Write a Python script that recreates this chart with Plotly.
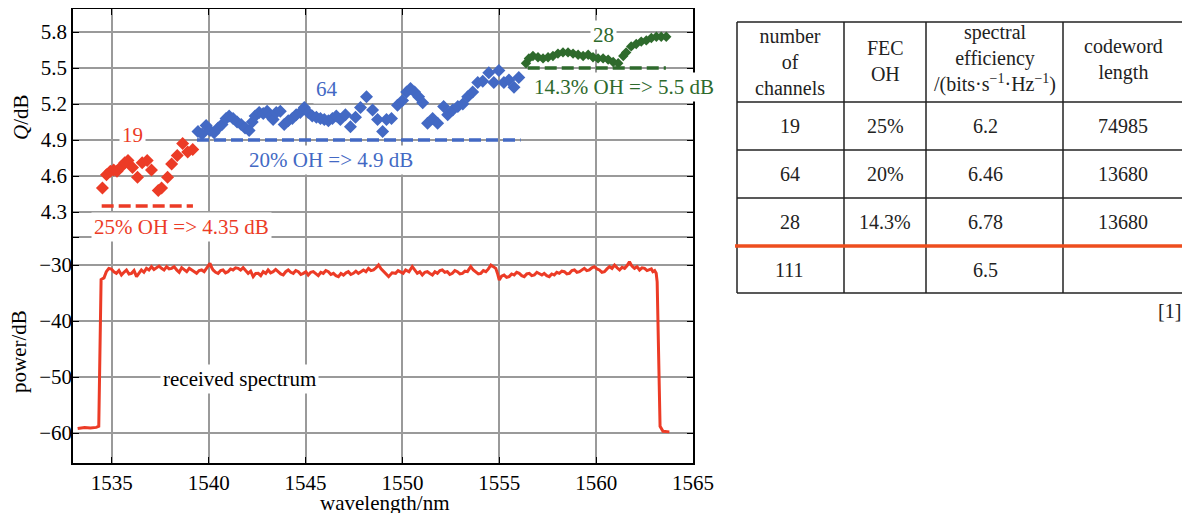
import plotly.graph_objects as go

# ---------------- data ----------------
red_wl = [1534.52, 1534.73, 1534.93, 1535.10, 1535.27, 1535.50, 1535.67, 1535.84, 1536.07, 1536.33,
          1536.57, 1536.83, 1537.05, 1537.40, 1537.57, 1537.88, 1538.09, 1538.38, 1538.66, 1538.92, 1539.18]
red_q = [4.50, 4.61, 4.64, 4.65, 4.64, 4.68, 4.71, 4.73, 4.67, 4.59,
         4.71, 4.73, 4.65, 4.48, 4.50, 4.59, 4.70, 4.77, 4.87, 4.80, 4.82]

blue_wl = [1539.45, 1539.66, 1539.87, 1540.07, 1540.28, 1540.49, 1540.69, 1540.90, 1541.06, 1541.26,
           1541.47, 1541.68, 1541.88, 1542.09, 1542.25, 1542.40, 1542.61, 1542.82, 1543.02, 1543.18,
           1543.33, 1543.49, 1543.70, 1543.90, 1544.11, 1544.32, 1544.52, 1544.73, 1544.94, 1545.14,
           1545.35, 1545.56, 1545.77, 1545.97, 1546.18, 1546.39, 1546.59, 1546.80, 1547.06, 1547.32,
           1547.58, 1547.84, 1548.15, 1548.46, 1548.72, 1548.98, 1549.18, 1549.44, 1549.75, 1550.01,
           1550.22, 1550.42, 1550.63, 1550.84, 1551.05, 1551.30, 1551.56, 1551.82, 1552.13, 1552.34,
           1552.60, 1552.86, 1553.12, 1553.37, 1553.63, 1553.89, 1554.15, 1554.46, 1554.72, 1554.98,
           1555.24, 1555.50, 1555.76, 1556.01]
blue_q = [4.97, 4.95, 5.02, 4.98, 4.96, 5.00, 5.03, 5.08, 5.10, 5.08,
          5.05, 5.03, 5.00, 4.98, 5.05, 5.10, 5.13, 5.12, 5.14, 5.10,
          5.07, 5.13, 5.14, 5.03, 5.06, 5.08, 5.11, 5.13, 5.17, 5.13,
          5.10, 5.09, 5.08, 5.07, 5.06, 5.08, 5.10, 5.07, 5.11, 5.01,
          5.09, 5.17, 5.26, 5.15, 5.07, 4.97, 5.07, 5.08, 5.19, 5.23,
          5.30, 5.33, 5.30, 5.26, 5.21, 5.04, 5.08, 5.04, 5.18, 5.11,
          5.15, 5.18, 5.20, 5.26, 5.30, 5.38, 5.39, 5.46, 5.38, 5.48,
          5.38, 5.40, 5.34, 5.42]

green_wl = [1556.38, 1556.53, 1556.74, 1557.00, 1557.26, 1557.52, 1557.77, 1558.03, 1558.29, 1558.55,
            1558.81, 1559.07, 1559.33, 1559.59, 1559.84, 1560.10, 1560.36, 1560.62, 1560.88, 1561.14,
            1561.40, 1561.55, 1561.81, 1562.07, 1562.33, 1562.59, 1562.85, 1563.11, 1563.36, 1563.62]
green_q = [5.54, 5.58, 5.60, 5.59, 5.58, 5.59, 5.60, 5.62, 5.63, 5.63,
           5.62, 5.61, 5.60, 5.61, 5.59, 5.58, 5.58, 5.57, 5.55, 5.54,
           5.60, 5.63, 5.68, 5.70, 5.72, 5.73, 5.75, 5.76, 5.76, 5.76]

# FEC thresholds: Q level, start and end wavelength
thr_q = [4.35, 4.9, 5.5]
thr_start = [1534.48, 1539.40, 1556.47]
thr_end = [1539.19, 1556.10, 1563.60]

# received spectrum (wavelength / nm, power / dB)
spec_wl = [
    1533.24, 1533.60, 1533.90, 1534.20, 1534.33, 1534.40, 1534.45, 1534.60,
    1534.72, 1534.85, 1534.98, 1535.11, 1535.24, 1535.37, 1535.50, 1535.63, 1535.76, 1535.89,
    1536.02, 1536.15, 1536.28, 1536.40, 1536.53, 1536.66, 1536.79, 1536.92, 1537.05, 1537.18,
    1537.31, 1537.44, 1537.57, 1537.70, 1537.83, 1537.96, 1538.09, 1538.22, 1538.35, 1538.48,
    1538.61, 1538.74, 1538.87, 1539.00, 1539.12, 1539.25, 1539.38, 1539.51, 1539.64, 1539.77,
    1539.90, 1539.98, 1540.07, 1540.15, 1540.23, 1540.36, 1540.49, 1540.62, 1540.74, 1540.87,
    1541.00, 1541.13, 1541.26, 1541.39, 1541.52, 1541.65, 1541.78, 1541.91, 1542.04, 1542.17,
    1542.30, 1542.43, 1542.56, 1542.69, 1542.82, 1542.95, 1543.07, 1543.20, 1543.33, 1543.46,
    1543.59, 1543.72, 1543.85, 1543.98, 1544.11, 1544.24, 1544.37, 1544.50, 1544.63, 1544.76,
    1544.89, 1545.02, 1545.14, 1545.27, 1545.40, 1545.53, 1545.66, 1545.79, 1545.92, 1546.05,
    1546.18, 1546.31, 1546.44, 1546.57, 1546.70, 1546.83, 1546.96, 1547.09, 1547.21, 1547.34,
    1547.47, 1547.60, 1547.73, 1547.86, 1547.99, 1548.12, 1548.25, 1548.38, 1548.51, 1548.64,
    1548.77, 1548.90, 1549.03, 1549.16, 1549.29, 1549.47, 1549.65, 1549.78, 1549.91, 1550.04,
    1550.17, 1550.34, 1550.51, 1550.64, 1550.77, 1550.90, 1551.03, 1551.16, 1551.29, 1551.42,
    1551.55, 1551.68, 1551.81, 1551.94, 1552.06, 1552.19, 1552.32, 1552.45, 1552.58, 1552.71,
    1552.84, 1552.97, 1553.10, 1553.23, 1553.36, 1553.45, 1553.53, 1553.66, 1553.79, 1553.92,
    1554.05, 1554.18, 1554.31, 1554.44, 1554.57, 1554.70, 1554.82, 1554.91, 1555.00, 1555.12,
    1555.25, 1555.38, 1555.51, 1555.64, 1555.77, 1555.90, 1556.03, 1556.16, 1556.29, 1556.42,
    1556.55, 1556.68, 1556.81, 1556.94, 1557.07, 1557.20, 1557.32, 1557.45, 1557.58, 1557.71,
    1557.84, 1557.97, 1558.10, 1558.23, 1558.36, 1558.49, 1558.62, 1558.75, 1558.88, 1559.01,
    1559.14, 1559.27, 1559.39, 1559.52, 1559.65, 1559.78, 1559.91, 1560.04, 1560.17, 1560.30,
    1560.43, 1560.56, 1560.69, 1560.82, 1560.95, 1561.08, 1561.21, 1561.34, 1561.47, 1561.60,
    1561.72, 1561.85, 1561.98, 1562.11, 1562.24, 1562.37, 1562.50, 1562.63, 1562.76, 1562.85,
    1562.93, 1563.02, 1563.10, 1563.15, 1563.30, 1563.45, 1563.78]
spec_p = [
    -59.2, -59.0, -59.1, -59.0, -58.8, -46.0, -32.6, -32.3,
    -31.20, -30.60, -30.71, -31.20, -31.49, -31.00, -31.79, -31.30, -30.89, -31.60,
    -31.49, -31.00, -32.08, -31.50, -30.89, -31.30, -30.60, -30.90, -30.30, -30.80,
    -30.48, -30.20, -30.60, -30.90, -30.30, -30.70, -30.60, -30.30, -30.89, -31.30,
    -30.48, -30.90, -31.19, -30.60, -30.89, -31.30, -31.49, -31.00, -30.89, -31.20,
    -30.60, -30.20, -29.70, -30.40, -30.89, -31.30, -31.49, -31.00, -30.89, -31.40,
    -31.19, -30.70, -30.89, -30.50, -30.60, -30.90, -30.48, -31.00, -31.49, -31.10,
    -32.08, -31.50, -31.49, -31.90, -31.19, -31.50, -30.89, -31.40, -31.19, -30.80,
    -31.19, -31.60, -31.79, -31.20, -30.89, -31.30, -31.49, -31.00, -31.19, -31.70,
    -31.49, -31.20, -31.79, -31.30, -31.19, -31.60, -31.90, -31.30, -31.49, -31.00,
    -31.19, -31.70, -31.49, -31.90, -32.08, -31.50, -31.79, -31.40, -31.19, -31.70,
    -31.49, -31.10, -31.49, -31.20, -30.89, -31.20, -30.60, -31.00, -30.89, -30.50,
    -30.00, -30.70, -31.19, -31.60, -32.08, -31.40, -31.49, -31.00, -31.19, -31.50,
    -30.89, -31.20, -30.30, -31.00, -31.49, -31.20, -31.79, -31.30, -31.19, -31.50,
    -31.79, -31.20, -31.49, -31.00, -30.89, -31.30, -31.19, -31.70, -31.49, -31.00,
    -31.19, -31.60, -31.49, -31.10, -31.19, -30.70, -30.30, -30.90, -31.19, -31.60,
    -31.49, -31.00, -31.19, -30.70, -30.00, -30.40, -30.60, -31.50, -32.68, -32.00,
    -31.79, -32.20, -32.08, -31.60, -31.79, -31.30, -31.49, -31.90, -32.08, -31.60,
    -31.49, -31.90, -31.79, -31.30, -31.49, -31.80, -31.49, -31.90, -32.08, -31.60,
    -31.79, -31.30, -31.49, -31.10, -31.19, -31.60, -31.49, -31.00, -30.89, -31.30,
    -31.19, -30.80, -30.60, -31.00, -30.89, -30.50, -30.30, -30.70, -30.89, -31.30,
    -31.19, -30.70, -30.30, -30.60, -30.00, -30.50, -30.89, -30.40, -30.60, -30.10,
    -29.40, -30.20, -30.60, -30.30, -30.89, -30.50, -30.60, -31.00, -30.89, -30.70,
    -31.19, -31.00, -31.49, -33.0, -58.8, -59.7, -59.8]

q_ticks = [4.3, 4.6, 4.9, 5.2, 5.5, 5.8]
p_ticks = [-60, -50, -40, -30, -25]
p_ticktext = ["\u221260", "\u221250", "\u221240", "\u221230", ""]
x_ticks = [1535, 1540, 1545, 1550, 1555, 1560, 1565]

table_header = ["number<br>of<br>channels", "FEC<br>OH",
                "spectral<br>efficiency<br>/(bits\u00b7s<sup>\u22121</sup>\u00b7Hz<sup>\u22121</sup>)",
                "codeword<br>length"]
table_rows = [["19", "25%", "6.2", "74985"],
              ["64", "20%", "6.46", "13680"],
              ["28", "14.3%", "6.78", "13680"],
              ["111", "", "6.5", ""]]

# ---------------- style ----------------
OFF = 8                      # page body margin of the browser
W, H = 1190 - OFF, 513 - OFF
RED = "#EC3B26"
BLUE = "#4369C4"
GREEN = "#2E6A2C"
ORANGE = "#EE4E1E"
SERIF = "Liberation Serif"
GRID = "#9a9a9a"


def px(x):
    return (x - OFF) / W


def py(y):
    return 1 - (y - OFF) / H


x_dom = [px(73), px(693)]
y_dom = [py(463), py(9)]
q_range = [2.2083, 5.9917]
p_range = [-65.357, 15.714]

fig = go.Figure()

fig.add_trace(go.Scatter(x=spec_wl, y=spec_p, mode="lines", yaxis="y2",
                         line=dict(color=RED, width=3), showlegend=False, hoverinfo="skip"))

thr_colors = [RED, BLUE, GREEN]
for q, a, b, c in zip(thr_q, thr_start, thr_end, thr_colors):
    fig.add_trace(go.Scatter(x=[a, b], y=[q, q], mode="lines",
                             line=dict(color=c, width=3.5, dash="12px,5px"), showlegend=False))

fig.add_trace(go.Scatter(x=red_wl, y=red_q, mode="markers",
                         marker=dict(symbol="diamond", size=10, color=RED), showlegend=False))
fig.add_trace(go.Scatter(x=blue_wl, y=blue_q, mode="markers",
                         marker=dict(symbol="diamond", size=10, color=BLUE), showlegend=False))
fig.add_trace(go.Scatter(x=green_wl, y=green_q, mode="markers",
                         marker=dict(symbol="diamond", size=8, color=GREEN), showlegend=False))

tickfont = dict(family=SERIF, size=21, color="black")

fig.update_layout(
    width=W, height=H, margin=dict(l=0, r=0, t=0, b=0),
    paper_bgcolor="white", plot_bgcolor="white",
    xaxis=dict(domain=x_dom, range=[1533, 1565], tickvals=x_ticks, ticks="inside", ticklen=6,
               tickcolor="black", showline=True, linecolor="black", linewidth=1.5, mirror="ticks",
               showgrid=True, gridcolor=GRID, gridwidth=1.5, zeroline=False, tickfont=tickfont,
               automargin=False),
    yaxis=dict(domain=y_dom, range=q_range, tickvals=q_ticks, ticktext=[f"{v:.1f}" for v in q_ticks],
               ticks="inside", ticklen=6, tickcolor="black", showline=True, linecolor="black",
               linewidth=1.5, mirror="ticks", showgrid=True, gridcolor=GRID, gridwidth=1.5,
               zeroline=False, tickfont=tickfont, automargin=False),
    yaxis2=dict(domain=y_dom, range=p_range, overlaying="y", side="left", anchor="x",
                tickvals=p_ticks, ticktext=p_ticktext, ticks="inside", ticklen=6, tickcolor="black",
                showline=False, mirror="ticks", showgrid=True, gridcolor=GRID, gridwidth=1.5,
                zeroline=False, tickfont=tickfont, automargin=False),
)


def add_text(text, x, y, color, bg="white", size=21, **kw):
    fig.add_annotation(text=text, x=px(x), y=py(y), xref="paper", yref="paper",
                       xanchor=kw.pop("xanchor", "center"), yanchor="middle",
                       showarrow=False, font=dict(family=SERIF, size=size, color=color),
                       bgcolor=bg, borderpad=2, **kw)


add_text("19", 132, 135, RED)
add_text("25% OH => 4.35 dB", 181, 227, RED)
add_text("64", 327, 89, BLUE)
add_text("20% OH => 4.9 dB", 331, 160, BLUE)
add_text("28", 603, 35, GREEN)
add_text("14.3% OH => 5.5 dB", 624, 87, GREEN)
add_text("received spectrum", 240, 379, "black")

add_text("<i>Q</i>/dB", 21, 117, "black", bg=None, textangle=-90)
add_text("power/dB", 19, 352, "black", bg=None, textangle=-90)
add_text("wavelength/nm", 384, 503, "black", bg=None)

# ---------------- table ----------------
col_x = [737, 844, 926, 1063, 1183]
row_y = [22, 102, 150, 198, 246, 293]
LINE = "#222222"
for x in col_x:
    fig.add_shape(type="line", xref="paper", yref="paper", x0=px(x), x1=px(x),
                  y0=py(row_y[0]), y1=py(row_y[-1]), line=dict(color=LINE, width=1.5))
for i, y in enumerate(row_y):
    if i == 4:
        continue
    fig.add_shape(type="line", xref="paper", yref="paper", x0=px(col_x[0]), x1=px(col_x[-1]),
                  y0=py(y), y1=py(y), line=dict(color=LINE, width=1.5))
fig.add_shape(type="line", xref="paper", yref="paper", x0=px(735), x1=px(1186),
              y0=py(row_y[4]), y1=py(row_y[4]), line=dict(color=ORANGE, width=3.5))

col_centers = [790, 885, 995, 1123]
val_centers = [790, 885, 985, 1123]
head_y = [62, 61, 59, 60]
for c, txt, hy in zip(col_centers, table_header, head_y):
    add_text(txt, c, hy, "#222", bg=None, size=20, align="center")
for r, row in enumerate(table_rows):
    cy = (row_y[r + 1] + row_y[r + 2]) / 2
    for c, txt in zip(val_centers, row):
        if txt:
            add_text(txt, c, cy, "#222", bg=None, size=20)
add_text("[1]", 1184, 311, "#222", bg=None, size=20, xanchor="right")

fig.write_html("out.html")
